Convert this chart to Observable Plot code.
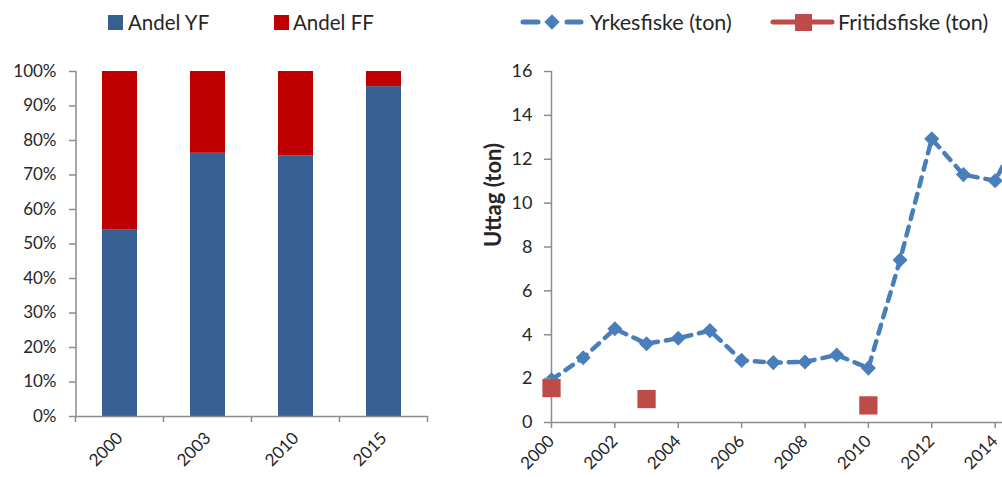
<!DOCTYPE html>
<html>
<head>
<meta charset="utf-8">
<script src="https://cdn.jsdelivr.net/npm/d3@7"></script>
<script src="https://cdn.jsdelivr.net/npm/@observablehq/plot@0.6"></script>
<style>
  html, body { margin: 0; padding: 0; background: #fff; overflow: hidden; }
  #wrap { position: relative; width: 1002px; height: 477px; overflow: hidden; font-family: Lato, "Open Sans", sans-serif; }
  #legend { position: absolute; left: 0; top: 0; }
  #left { position: absolute; left: 0; top: 45px; width: 470px; }
  #right { position: absolute; left: 470px; top: 45px; width: 600px; }
  #right svg, #left svg { max-width: none !important; }
</style>
</head>
<body>
<div id="wrap">
  <div id="legend"></div>
  <div id="left"></div>
  <div id="right"></div>
</div>
<script>
// ---- Data: left chart (share of catch) ----
const barYears = ["2000", "2003", "2010", "2015"];
const andelYF = [0.54, 0.763, 0.756, 0.956];
const andelFF = [0.46, 0.237, 0.244, 0.044];
const seriesNames = ["Andel YF", "Andel FF"];
const pctTicks = [0, 0.1, 0.2, 0.3, 0.4, 0.5, 0.6, 0.7, 0.8, 0.9, 1];

// ---- Data: right chart (catch in tonnes) ----
const lineYears = [2000, 2001, 2002, 2003, 2004, 2005, 2006, 2007, 2008, 2009, 2010, 2011, 2012, 2013, 2014, 2015];
const yrkesfiske = [1.95, 2.95, 4.27, 3.59, 3.84, 4.19, 2.83, 2.73, 2.76, 3.08, 2.48, 7.41, 12.93, 11.3, 11.02, 13.8];
const fritidYears = [2000, 2003, 2010];
const fritidsfiske = [1.57, 1.07, 0.78];
const tonTicks = [0, 2, 4, 6, 8, 10, 12, 14, 16];
const yearTicks = [2000, 2002, 2004, 2006, 2008, 2010, 2012, 2014, 2016];
const lineNames = ["Yrkesfiske (ton)", "Fritidsfiske (ton)"];
const yTitle = "Uttag (ton)";

const BLUE = "#376092", RED = "#C00000";
const LBLUE = "#4A7EBB", LRED = "#BE4B48";
const AXIS = "#8c8c8c", TXT = "#262626";
const FONT = "Lato, 'Open Sans', sans-serif";

// ---- Legend (above the charts) ----
const lg = d3.select("#legend").append("svg").attr("width", 1002).attr("height", 45)
  .style("font-family", FONT).style("fill", TXT);
lg.append("rect").attr("x", 108).attr("y", 15).attr("width", 15).attr("height", 15).attr("fill", BLUE);
lg.append("text").attr("x", 128).attr("y", 30).style("font-size", "20.5px").text(seriesNames[0]);
lg.append("rect").attr("x", 274).attr("y", 15).attr("width", 15).attr("height", 15).attr("fill", RED);
lg.append("text").attr("x", 293).attr("y", 30).style("font-size", "20.5px").text(seriesNames[1]);
lg.append("line").attr("x1", 523).attr("x2", 538).attr("y1", 22).attr("y2", 22).attr("stroke", LBLUE).attr("stroke-width", 5).attr("stroke-linecap", "round");
lg.append("line").attr("x1", 567).attr("x2", 581).attr("y1", 22).attr("y2", 22).attr("stroke", LBLUE).attr("stroke-width", 5).attr("stroke-linecap", "round");
lg.append("path").attr("d", d3.symbol(d3.symbolDiamond2, 150)()).attr("transform", "translate(552,22)").attr("fill", LBLUE);
lg.append("text").attr("x", 590).attr("y", 30).style("font-size", "21.5px").text(lineNames[0]);
lg.append("line").attr("x1", 773).attr("x2", 832).attr("y1", 22).attr("y2", 22).attr("stroke", LRED).attr("stroke-width", 5).attr("stroke-linecap", "round");
lg.append("rect").attr("x", 795).attr("y", 14).attr("width", 17).attr("height", 17).attr("fill", LRED);
lg.append("text").attr("x", 838).attr("y", 30).style("font-size", "21.5px").text(lineNames[1]);

// ---- Left chart: 100% stacked bars ----
const barRows = [];
barYears.forEach((yr, i) => {
  barRows.push({year: yr, series: seriesNames[0], value: andelYF[i]});
  barRows.push({year: yr, series: seriesNames[1], value: andelFF[i]});
});

function catAxisFrame(index, scales, values, dims) {
  const g = d3.create("svg:g");
  const x = scales.x, y = scales.y;
  const step = x(barYears[1]) - x(barYears[0]);
  const bw = x.bandwidth ? x.bandwidth() : step * 0.4;
  const edges = barYears.map(c => x(c) - (step - bw) / 2);
  edges.push(edges[edges.length - 1] + step);
  const y0 = y(0);
  const left = dims.marginLeft;
  g.append("line").attr("x1", left).attr("x2", left).attr("y1", dims.marginTop).attr("y2", y0)
    .attr("stroke", AXIS).attr("stroke-width", 1.5);
  edges.forEach(ex => g.append("line").attr("x1", ex).attr("x2", ex).attr("y1", y0).attr("y2", y0 + 6)
    .attr("stroke", AXIS).attr("stroke-width", 1.5));
  return g.node();
}

const left = Plot.plot({
  width: 470,
  height: 432,
  marginTop: 26,
  marginLeft: 76,
  marginRight: 42,
  marginBottom: 61,
  style: {fontFamily: FONT, fontSize: "17px", color: TXT, background: "white"},
  x: {domain: barYears, paddingInner: 0.6, paddingOuter: 0.3, label: null},
  y: {domain: [0, 1], label: null},
  color: {domain: seriesNames, range: [BLUE, RED]},
  marks: [
    Plot.barY(barRows, {x: "year", y: "value", fill: "series", order: seriesNames}),
    Plot.ruleY([0], {stroke: AXIS, strokeWidth: 1.5}),
    catAxisFrame,
    Plot.axisY({ticks: pctTicks, tickFormat: d3.format(".0%"), tickSize: 7, tickPadding: 13, stroke: AXIS, strokeWidth: 1.5, fill: TXT, label: null, fontSize: 17}),
    Plot.axisX({tickSize: 0, tickPadding: 19, tickRotate: -45, fill: TXT, label: null, fontSize: 17})
  ]
});
document.getElementById("left").appendChild(left);

// ---- Right chart: lines ----
const yrRows = lineYears.map((yr, i) => ({year: yr, value: yrkesfiske[i]}));
const ffRows = fritidYears.map((yr, i) => ({year: yr, value: fritidsfiske[i]}));

const right = Plot.plot({
  width: 600,
  height: 432,
  marginTop: 26,
  marginLeft: 81,
  marginRight: 12,
  marginBottom: 55,
  style: {fontFamily: FONT, fontSize: "17px", color: TXT, background: "white", overflow: "visible"},
  x: {domain: [2000, 2016], label: null},
  y: {domain: [0, 16], label: null},
  marks: [
    Plot.ruleY([0], {stroke: AXIS, strokeWidth: 1.5}),
    Plot.ruleX([2000], {y1: 0, y2: 16, stroke: AXIS, strokeWidth: 1.5}),
    Plot.lineY(yrRows, {x: "year", y: "value", stroke: LBLUE, strokeWidth: 4.5, strokeDasharray: "9,8", strokeLinecap: "round"}),
    Plot.dot(yrRows, {x: "year", y: "value", symbol: "diamond2", r: 6.8, fill: LBLUE, stroke: "none"}),
    Plot.dot(ffRows, {x: "year", y: "value", symbol: "square", r: 10.3, fill: LRED, stroke: "none"}),
    Plot.axisY({ticks: tonTicks, tickSize: 7, tickPadding: 12, stroke: AXIS, strokeWidth: 1.5, fill: TXT, fontSize: 18, label: null}),
    Plot.text([yTitle], {text: d => d, frameAnchor: "left", dx: -58, rotate: -90, fontWeight: "bold", fontSize: 22, fill: TXT}),
    Plot.axisX({ticks: yearTicks, tickFormat: d => String(d), tickSize: 6, tickPadding: 10, tickRotate: -45, stroke: AXIS, strokeWidth: 1.5, fill: TXT, label: null, fontSize: 17})
  ]
});
document.getElementById("right").appendChild(right);
</script>
</body>
</html>
